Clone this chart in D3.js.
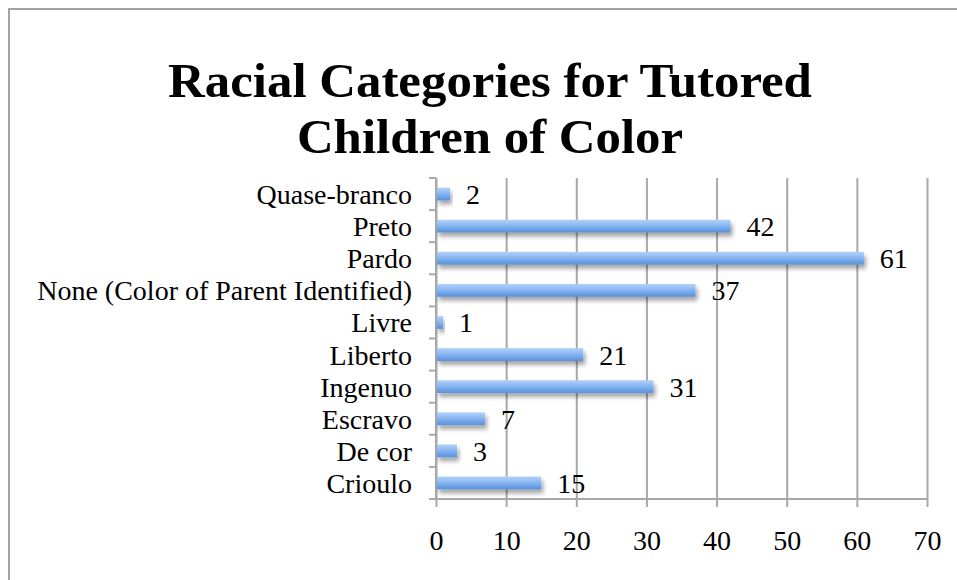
<!DOCTYPE html>
<html>
<head>
<meta charset="utf-8">
<script src="https://cdn.jsdelivr.net/npm/d3@7"></script>
<style>
  html, body { margin: 0; padding: 0; background: #fff; }
  svg { display: block; }
  text { font-family: "Liberation Serif", "DejaVu Serif", serif; fill: #000; }
</style>
</head>
<body>
<svg id="chart" width="957" height="580"></svg>
<script>
// Racial categories, listed top to bottom
const categories = [
  "Quase-branco", "Preto", "Pardo", "None (Color of Parent Identified)",
  "Livre", "Liberto", "Ingenuo", "Escravo", "De cor", "Crioulo"
];
const counts = [2, 42, 61, 37, 1, 21, 31, 7, 3, 15];
const xTickValues = [0, 10, 20, 30, 40, 50, 60, 70];
const titleLines = ["Racial Categories for Tutored", "Children of Color"];

const svg = d3.select("#chart");
const W = 957, H = 580;
const plot = { left: 436, right: 927, top: 178, bottom: 499 };
const labelSize = 28;

// Outer frame (left and top edges visible)
svg.append("path")
  .attr("d", `M9,${H} L9,9 L${W},9`)
  .attr("fill", "none")
  .attr("stroke", "#a3a3a3")
  .attr("stroke-width", 2);

// Bar fill and shadow
const defs = svg.append("defs");
const grad = defs.append("linearGradient")
  .attr("id", "barFill").attr("x1", 0).attr("y1", 0).attr("x2", 0).attr("y2", 1);
grad.append("stop").attr("offset", "0%").attr("stop-color", "#b3d1fa");
grad.append("stop").attr("offset", "45%").attr("stop-color", "#89b7f1");
grad.append("stop").attr("offset", "100%").attr("stop-color", "#5790db");
const shadow = defs.append("filter").attr("id", "barShadow")
  .attr("x", "-20%").attr("y", "-50%").attr("width", "140%").attr("height", "250%");
shadow.append("feDropShadow")
  .attr("dx", 2).attr("dy", 4).attr("stdDeviation", 2.2)
  .attr("flood-color", "#000").attr("flood-opacity", 0.35);

// Title: two bold lines, widened slightly around the centre
const titleWidth = 644, titleCx = 490;
const titleG = svg.append("g");
const titleText = titleG.selectAll("text")
  .data(titleLines)
  .join("text")
  .attr("x", 0)
  .attr("y", (d, i) => 97 + i * 56)
  .attr("text-anchor", "middle")
  .attr("font-size", 49)
  .attr("font-weight", "bold")
  .text(d => d);
const firstLen = titleText.node().getComputedTextLength();
titleG.attr("transform", `translate(${titleCx},0) scale(${titleWidth / firstLen},1)`);

// Scales
const x = d3.scaleLinear().domain([0, 70]).range([plot.left, plot.right]);
const y = d3.scaleBand().domain(categories).range([plot.top, plot.bottom])
  .paddingInner(0.6).paddingOuter(0.3);

// Vertical gridlines, continuing as ticks below the axis
const xAxis = d3.axisBottom(x)
  .tickValues(xTickValues)
  .tickSize(-(plot.bottom - plot.top))
  .tickPadding(0)
  .tickFormat(d3.format("d"));
const gx = svg.append("g")
  .attr("transform", `translate(0,${plot.bottom})`)
  .call(xAxis);
gx.select(".domain").remove();
gx.selectAll(".tick line")
  .attr("y2", -(plot.bottom - plot.top))
  .attr("y1", 8)
  .attr("stroke", "#a8a8a8")
  .attr("stroke-width", 2);
gx.selectAll(".tick text")
  .attr("y", 51)
  .attr("dy", 0)
  .attr("font-size", labelSize)
  .attr("font-family", "Liberation Serif")
  .attr("fill", "#000");

// Horizontal axis line
svg.append("line")
  .attr("x1", plot.left - 7).attr("x2", plot.right)
  .attr("y1", plot.bottom).attr("y2", plot.bottom)
  .attr("stroke", "#a8a8a8").attr("stroke-width", 2);

// Vertical axis line with category boundary ticks
svg.append("line")
  .attr("x1", plot.left).attr("x2", plot.left)
  .attr("y1", plot.top).attr("y2", plot.bottom)
  .attr("stroke", "#a8a8a8").attr("stroke-width", 2);
svg.append("g").selectAll("line")
  .data(categories.map(c => y(c) - y.step() * y.paddingInner() / 2).concat([plot.bottom]))
  .join("line")
  .attr("x1", plot.left - 7).attr("x2", plot.left)
  .attr("y1", d => d).attr("y2", d => d)
  .attr("stroke", "#a8a8a8").attr("stroke-width", 2);

// Category labels
svg.append("g").selectAll("text")
  .data(categories)
  .join("text")
  .attr("x", 412)
  .attr("y", d => y(d) + y.bandwidth() / 2 + 10)
  .attr("text-anchor", "end")
  .attr("font-size", labelSize)
  .text(d => d);

// Bars
const rows = categories.map((c, i) => ({ category: c, value: counts[i] }));
svg.append("g").selectAll("rect")
  .data(rows)
  .join("rect")
  .attr("x", x(0) + 1)
  .attr("y", d => y(d.category))
  .attr("width", d => x(d.value) - x(0) - 1)
  .attr("height", y.bandwidth())
  .attr("fill", "url(#barFill)")
  .attr("filter", "url(#barShadow)");

// Value labels
svg.append("g").selectAll("text")
  .data(rows)
  .join("text")
  .attr("x", d => x(d.value) + 16)
  .attr("y", d => y(d.category) + y.bandwidth() / 2 + 10)
  .attr("font-size", labelSize)
  .text(d => d.value);
</script>
</body>
</html>
